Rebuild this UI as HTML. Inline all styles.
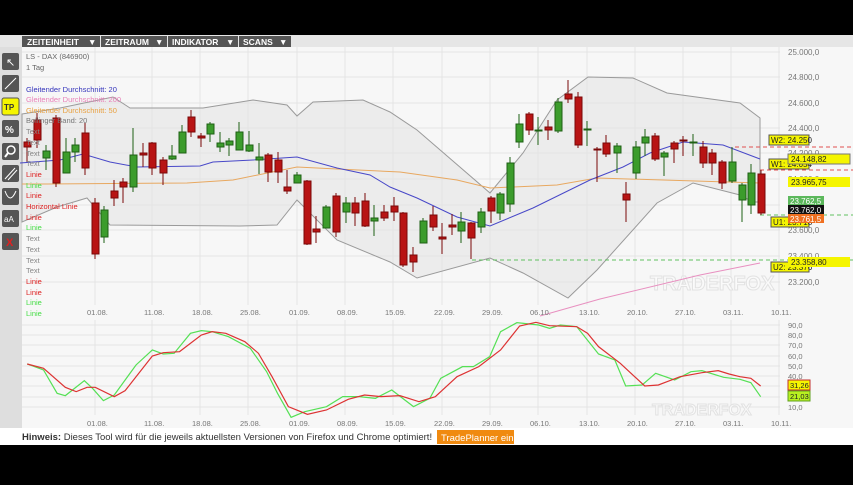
<!DOCTYPE html>
<html><head><meta charset="utf-8"><style>
body{margin:0;width:853px;height:480px;background:#000;overflow:hidden;font-family:"Liberation Sans",sans-serif}
</style></head><body>
<svg width="853" height="480" xmlns="http://www.w3.org/2000/svg" font-family="Liberation Sans, sans-serif">
<rect x="0" y="35" width="853" height="410" fill="#f7f7f7"/>
<rect x="0" y="35" width="853" height="12" fill="#e6e6e6"/>
<g font-size="8.5" font-weight="bold" fill="#fff">
<rect x="22" y="36" width="78" height="11" fill="#555"/><text x="27" y="45">ZEITEINHEIT</text><text x="88" y="45">▼</text>
<rect x="101" y="36" width="66" height="11" fill="#555"/><text x="105" y="45">ZEITRAUM</text><text x="155" y="45">▼</text>
<rect x="168" y="36" width="70" height="11" fill="#555"/><text x="172" y="45">INDIKATOR</text><text x="226" y="45">▼</text>
<rect x="239" y="36" width="52" height="11" fill="#555"/><text x="243" y="45">SCANS</text><text x="279" y="45">▼</text>
</g>
<rect x="0" y="47" width="22" height="381" fill="#dedede"/>
<g>
<rect x="2" y="53" width="17" height="17" rx="2" fill="#555"/><text x="6" y="66" fill="#fff" font-size="11">↖</text>
<rect x="2" y="75" width="17" height="17" rx="2" fill="#555"/><line x1="5" y1="89" x2="16" y2="78" stroke="#fff"/>
<rect x="2" y="98" width="17" height="17" rx="2" fill="#f5f500" stroke="#555"/><text x="4" y="110" font-size="8" font-weight="bold" fill="#333">TP</text>
<rect x="2" y="120" width="17" height="17" rx="2" fill="#555"/><text x="5" y="133" fill="#fff" font-size="10" font-weight="bold">%</text>
<rect x="2" y="143" width="17" height="17" rx="2" fill="#555"/><circle cx="11" cy="150" r="4" fill="none" stroke="#fff" stroke-width="1.5"/><line x1="8" y1="153" x2="5" y2="157" stroke="#fff" stroke-width="2"/>
<rect x="2" y="165" width="17" height="17" rx="2" fill="#555"/><line x1="5" y1="179" x2="15" y2="168" stroke="#fff"/><line x1="8" y1="180" x2="17" y2="170" stroke="#fff"/>
<rect x="2" y="188" width="17" height="17" rx="2" fill="#555"/><path d="M5 191 Q10 205 16 191" fill="none" stroke="#fff"/>
<rect x="2" y="210" width="17" height="17" rx="2" fill="#555"/><text x="4" y="222" fill="#fff" font-size="8">aA</text>
<rect x="2" y="233" width="17" height="17" rx="2" fill="#555"/><text x="6" y="246" fill="#e02020" font-size="11" font-weight="bold">X</text>
</g>
<g stroke="#e4e4e4" stroke-width="1">
<line x1="22" y1="52" x2="780" y2="52"/><line x1="22" y1="77" x2="780" y2="77"/><line x1="22" y1="103" x2="780" y2="103"/><line x1="22" y1="128" x2="780" y2="128"/><line x1="22" y1="153" x2="780" y2="153"/><line x1="22" y1="179" x2="780" y2="179"/><line x1="22" y1="205" x2="780" y2="205"/><line x1="22" y1="230" x2="780" y2="230"/><line x1="22" y1="256" x2="780" y2="256"/><line x1="22" y1="282" x2="780" y2="282"/>
<line x1="95" y1="47" x2="95" y2="305"/><line x1="152" y1="47" x2="152" y2="305"/><line x1="200" y1="47" x2="200" y2="305"/><line x1="248" y1="47" x2="248" y2="305"/><line x1="297" y1="47" x2="297" y2="305"/><line x1="345" y1="47" x2="345" y2="305"/><line x1="393" y1="47" x2="393" y2="305"/><line x1="442" y1="47" x2="442" y2="305"/><line x1="490" y1="47" x2="490" y2="305"/><line x1="538" y1="47" x2="538" y2="305"/><line x1="587" y1="47" x2="587" y2="305"/><line x1="635" y1="47" x2="635" y2="305"/><line x1="683" y1="47" x2="683" y2="305"/><line x1="731" y1="47" x2="731" y2="305"/><line x1="779" y1="47" x2="779" y2="305"/>
</g>
<path d="M22 114 L60 108 L113 97 L130 108 L203 108 L253 100 L287 105 L297 116 L313 102 L363 100 L390 112 L417 130 L490 193 L523 153 L557 100 L588 77 L633 78 L667 93 L740 103 L760 118 L760 202 L753 202 L740 195 L693 183 L657 203 L597 270 L568 298 L523 273 L490 258 L417 278 L390 262 L337 240 L297 200 L277 225 L240 226 L110 225 L87 198 L57 207 L22 222 Z" fill="#e4e4e4" fill-opacity="0.6" stroke="#9a9a9a" stroke-width="1"/>
<text x="650" y="290" font-size="20" font-weight="bold" fill="#fafafa" stroke="#e2e2e2" stroke-width="1">TRADERFOX</text>
<polyline points="22,184 47,184 187,183 233,180 297,167 337,169 400,172 457,180 490,188 557,185 597,178 760,183" fill="none" stroke="#e8a860" stroke-width="1"/>
<polyline points="20,163 60,160 83,154 110,162 137,167 200,166 213,162 253,160 297,157 337,168 370,175 390,187 417,198 457,217 490,226 533,208 590,180 623,167 650,153 683,142 723,145 760,159" fill="none" stroke="#4848c8" stroke-width="1"/>
<polyline points="540,316 600,299 700,275 760,263" fill="none" stroke="#e890c0" stroke-width="1"/>
<g stroke-dasharray="4,3" stroke-width="1">
<line x1="735" y1="147" x2="853" y2="147" stroke="#e05050"/>
<line x1="760" y1="170" x2="853" y2="170" stroke="#e05050"/>
<line x1="760" y1="215" x2="853" y2="215" stroke="#60c060"/>
<line x1="472" y1="260" x2="853" y2="260" stroke="#60c060"/>
</g>
<g stroke-width="1">
<g stroke="#7a0808" fill="#b81414">
<line x1="27" y1="138" x2="27" y2="162"/><rect x="24" y="142" width="7" height="5"/>
<line x1="37" y1="113" x2="37" y2="148"/><rect x="34" y="120" width="7" height="20"/>
<line x1="56" y1="115" x2="56" y2="187"/><rect x="53" y="118" width="7" height="65"/>
<line x1="85" y1="123" x2="85" y2="175"/><rect x="82" y="133" width="7" height="35"/>
<line x1="95" y1="198" x2="95" y2="259"/><rect x="92" y="203" width="7" height="51"/>
<line x1="114" y1="180" x2="114" y2="206"/><rect x="111" y="191" width="7" height="7"/>
<line x1="123" y1="178" x2="123" y2="203"/><rect x="120" y="182" width="7" height="5"/>
<line x1="143" y1="143" x2="143" y2="167"/><rect x="140" y="153" width="7" height="2"/>
<line x1="152" y1="142" x2="152" y2="175"/><rect x="149" y="143" width="7" height="25"/>
<line x1="163" y1="157" x2="163" y2="185"/><rect x="160" y="160" width="7" height="13"/>
<line x1="191" y1="110" x2="191" y2="137"/><rect x="188" y="117" width="7" height="15"/>
<line x1="201" y1="133" x2="201" y2="147"/><rect x="198" y="136" width="7" height="2"/>
<line x1="268" y1="153" x2="268" y2="182"/><rect x="265" y="155" width="7" height="17"/>
<line x1="278" y1="152" x2="278" y2="183"/><rect x="275" y="160" width="7" height="12"/>
<line x1="287" y1="170" x2="287" y2="194"/><rect x="284" y="187" width="7" height="4"/>
<line x1="307" y1="180" x2="307" y2="245"/><rect x="304" y="181" width="7" height="63"/>
<line x1="316" y1="216" x2="316" y2="243"/><rect x="313" y="229" width="7" height="3"/>
<line x1="336" y1="193" x2="336" y2="237"/><rect x="333" y="196" width="7" height="36"/>
<line x1="355" y1="197" x2="355" y2="226"/><rect x="352" y="203" width="7" height="10"/>
<line x1="365" y1="193" x2="365" y2="227"/><rect x="362" y="201" width="7" height="25"/>
<line x1="384" y1="205" x2="384" y2="221"/><rect x="381" y="212" width="7" height="6"/>
<line x1="394" y1="197" x2="394" y2="221"/><rect x="391" y="206" width="7" height="6"/>
<line x1="403" y1="212" x2="403" y2="267"/><rect x="400" y="213" width="7" height="52"/>
<line x1="413" y1="247" x2="413" y2="272"/><rect x="410" y="255" width="7" height="7"/>
<line x1="433" y1="206" x2="433" y2="231"/><rect x="430" y="215" width="7" height="12"/>
<line x1="442" y1="223" x2="442" y2="254"/><rect x="439" y="237" width="7" height="2"/>
<line x1="452" y1="214" x2="452" y2="235"/><rect x="449" y="225" width="7" height="2"/>
<line x1="471" y1="222" x2="471" y2="259"/><rect x="468" y="223" width="7" height="15"/>
<line x1="491" y1="196" x2="491" y2="223"/><rect x="488" y="198" width="7" height="13"/>
<line x1="529" y1="112" x2="529" y2="135"/><rect x="526" y="114" width="7" height="16"/>
<line x1="548" y1="120" x2="548" y2="140"/><rect x="545" y="127" width="7" height="3"/>
<line x1="568" y1="80" x2="568" y2="103"/><rect x="565" y="94" width="7" height="5"/>
<line x1="578" y1="92" x2="578" y2="148"/><rect x="575" y="97" width="7" height="48"/>
<line x1="597" y1="147" x2="597" y2="182"/><rect x="594" y="149" width="7" height="1"/>
<line x1="606" y1="135" x2="606" y2="157"/><rect x="603" y="143" width="7" height="11"/>
<line x1="626" y1="182" x2="626" y2="222"/><rect x="623" y="194" width="7" height="6"/>
<line x1="655" y1="133" x2="655" y2="161"/><rect x="652" y="136" width="7" height="23"/>
<line x1="674" y1="141" x2="674" y2="163"/><rect x="671" y="143" width="7" height="6"/>
<line x1="683" y1="136" x2="683" y2="156"/><rect x="680" y="140" width="7" height="1"/>
<line x1="703" y1="141" x2="703" y2="168"/><rect x="700" y="147" width="7" height="16"/>
<line x1="712" y1="149" x2="712" y2="175"/><rect x="709" y="153" width="7" height="10"/>
<line x1="722" y1="160" x2="722" y2="189"/><rect x="719" y="162" width="7" height="21"/>
<line x1="761" y1="170" x2="761" y2="215"/><rect x="758" y="174" width="7" height="39"/>
</g>
<g stroke="#1e6014" fill="#3c9c2c">
<line x1="46" y1="145" x2="46" y2="170"/><rect x="43" y="151" width="7" height="7"/>
<line x1="66" y1="138" x2="66" y2="173"/><rect x="63" y="152" width="7" height="21"/>
<line x1="75" y1="138" x2="75" y2="162"/><rect x="72" y="145" width="7" height="7"/>
<line x1="104" y1="206" x2="104" y2="243"/><rect x="101" y="210" width="7" height="27"/>
<line x1="133" y1="128" x2="133" y2="192"/><rect x="130" y="155" width="7" height="32"/>
<line x1="172" y1="145" x2="172" y2="160"/><rect x="169" y="156" width="7" height="3"/>
<line x1="182" y1="125" x2="182" y2="153"/><rect x="179" y="132" width="7" height="21"/>
<line x1="210" y1="122" x2="210" y2="142"/><rect x="207" y="124" width="7" height="10"/>
<line x1="220" y1="132" x2="220" y2="152"/><rect x="217" y="143" width="7" height="4"/>
<line x1="229" y1="138" x2="229" y2="156"/><rect x="226" y="141" width="7" height="4"/>
<line x1="239" y1="122" x2="239" y2="150"/><rect x="236" y="132" width="7" height="18"/>
<line x1="249" y1="131" x2="249" y2="152"/><rect x="246" y="145" width="7" height="6"/>
<line x1="259" y1="143" x2="259" y2="174"/><rect x="256" y="157" width="7" height="3"/>
<line x1="297" y1="172" x2="297" y2="183"/><rect x="294" y="175" width="7" height="8"/>
<line x1="326" y1="205" x2="326" y2="228"/><rect x="323" y="207" width="7" height="21"/>
<line x1="346" y1="197" x2="346" y2="223"/><rect x="343" y="203" width="7" height="9"/>
<line x1="374" y1="205" x2="374" y2="236"/><rect x="371" y="218" width="7" height="3"/>
<line x1="423" y1="218" x2="423" y2="243"/><rect x="420" y="221" width="7" height="22"/>
<line x1="461" y1="212" x2="461" y2="243"/><rect x="458" y="222" width="7" height="9"/>
<line x1="481" y1="208" x2="481" y2="233"/><rect x="478" y="212" width="7" height="15"/>
<line x1="500" y1="192" x2="500" y2="220"/><rect x="497" y="194" width="7" height="19"/>
<line x1="510" y1="157" x2="510" y2="212"/><rect x="507" y="163" width="7" height="41"/>
<line x1="519" y1="114" x2="519" y2="148"/><rect x="516" y="124" width="7" height="18"/>
<line x1="538" y1="117" x2="538" y2="145"/><rect x="535" y="130" width="7" height="1"/>
<line x1="558" y1="98" x2="558" y2="133"/><rect x="555" y="102" width="7" height="29"/>
<line x1="587" y1="121" x2="587" y2="146"/><rect x="584" y="129" width="7" height="1"/>
<line x1="617" y1="143" x2="617" y2="173"/><rect x="614" y="146" width="7" height="7"/>
<line x1="636" y1="141" x2="636" y2="179"/><rect x="633" y="147" width="7" height="26"/>
<line x1="645" y1="129" x2="645" y2="156"/><rect x="642" y="137" width="7" height="6"/>
<line x1="664" y1="151" x2="664" y2="176"/><rect x="661" y="153" width="7" height="4"/>
<line x1="693" y1="134" x2="693" y2="156"/><rect x="690" y="142" width="7" height="1"/>
<line x1="732" y1="147" x2="732" y2="183"/><rect x="729" y="162" width="7" height="19"/>
<line x1="742" y1="183" x2="742" y2="222"/><rect x="739" y="185" width="7" height="15"/>
<line x1="751" y1="164" x2="751" y2="214"/><rect x="748" y="173" width="7" height="32"/>
</g>
</g>
<g font-size="8" fill="#222">
<rect x="769" y="135" width="40" height="10" fill="#f5f500" stroke="#555"/><text x="771" y="143">W2: 24.250</text>
<rect x="769" y="159" width="40" height="10" fill="#f5f500" stroke="#555"/><text x="771" y="167">W1: 24.054</text>
<rect x="771" y="217" width="38" height="10" fill="#f5f500" stroke="#555"/><text x="773" y="225">U1: 23.718</text>
<rect x="771" y="262" width="38" height="10" fill="#f5f500" stroke="#555"/><text x="773" y="270">U2: 23.376</text>
</g>
<g font-size="8" fill="#777">
<text x="788" y="55">25.000,0</text><text x="788" y="80">24.800,0</text><text x="788" y="106">24.600,0</text><text x="788" y="131">24.400,0</text><text x="788" y="156">24.200,0</text><text x="788" y="182">24.000,0</text><text x="788" y="233">23.600,0</text><text x="788" y="259">23.400,0</text><text x="788" y="285">23.200,0</text>
</g>
<g font-size="8">
<rect x="788" y="154" width="62" height="10" fill="#f5f500" stroke="#777"/><text x="791" y="162" fill="#222">24.148,82</text>
<rect x="788" y="177" width="62" height="10" fill="#f5f500"/><text x="791" y="185" fill="#222">23.965,75</text>
<rect x="788" y="196" width="36" height="9" fill="#5cb85c"/><text x="790" y="204" fill="#fff">23.762,5</text>
<rect x="788" y="205" width="36" height="9" fill="#111"/><text x="790" y="213" fill="#fff">23.762,0</text>
<rect x="788" y="214" width="36" height="9" fill="#f07020"/><text x="790" y="222" fill="#fff">23.761,5</text>
<rect x="788" y="257" width="62" height="10" fill="#f5f500"/><text x="791" y="265" fill="#222">23.358,80</text>
</g>
<g font-size="7.5">
<text x="26" y="59" fill="#666">LS - DAX (846900)</text><text x="26" y="70" fill="#666">1 Tag</text>
<text x="26" y="92" fill="#3333bb">Gleitender Durchschnitt: 20</text>
<text x="26" y="102" fill="#e880b8">Gleitender Durchschnitt: 200</text>
<text x="26" y="113" fill="#e8a040">Gleitender Durchschnitt: 50</text>
<text x="26" y="123" fill="#777">Bollinger Band: 20</text>
<text x="26" y="134" fill="#888">Text</text><text x="26" y="145" fill="#888">Text</text><text x="26" y="156" fill="#888">Text</text><text x="26" y="166" fill="#888">Text</text>
<text x="26" y="177" fill="#dd2222">Linie</text><text x="26" y="188" fill="#44dd44">Linie</text><text x="26" y="198" fill="#dd2222">Linie</text><text x="26" y="209" fill="#dd2222">Horizontal Linie</text><text x="26" y="220" fill="#dd2222">Linie</text><text x="26" y="230" fill="#44dd44">Linie</text>
<text x="26" y="241" fill="#888">Text</text><text x="26" y="252" fill="#888">Text</text><text x="26" y="263" fill="#888">Text</text><text x="26" y="273" fill="#888">Text</text>
<text x="26" y="284" fill="#dd2222">Linie</text><text x="26" y="295" fill="#dd2222">Linie</text><text x="26" y="305" fill="#44dd44">Linie</text><text x="26" y="316" fill="#44dd44">Linie</text>
</g>
<g font-size="7.5" fill="#777">
<text x="87" y="315">01.08.</text><text x="144" y="315">11.08.</text><text x="192" y="315">18.08.</text><text x="240" y="315">25.08.</text><text x="289" y="315">01.09.</text><text x="337" y="315">08.09.</text><text x="385" y="315">15.09.</text><text x="434" y="315">22.09.</text><text x="482" y="315">29.09.</text><text x="530" y="315">06.10.</text><text x="579" y="315">13.10.</text><text x="627" y="315">20.10.</text><text x="675" y="315">27.10.</text><text x="723" y="315">03.11.</text><text x="771" y="315">10.11.</text>
</g>
<g stroke="#e4e4e4">
<line x1="22" y1="325" x2="780" y2="325"/><line x1="22" y1="335" x2="780" y2="335"/><line x1="22" y1="345" x2="780" y2="345"/><line x1="22" y1="356" x2="780" y2="356"/><line x1="22" y1="366" x2="780" y2="366"/><line x1="22" y1="376" x2="780" y2="376"/><line x1="22" y1="386" x2="780" y2="386"/><line x1="22" y1="397" x2="780" y2="397"/><line x1="22" y1="407" x2="780" y2="407"/>
<line x1="95" y1="320" x2="95" y2="415"/><line x1="152" y1="320" x2="152" y2="415"/><line x1="200" y1="320" x2="200" y2="415"/><line x1="248" y1="320" x2="248" y2="415"/><line x1="297" y1="320" x2="297" y2="415"/><line x1="345" y1="320" x2="345" y2="415"/><line x1="393" y1="320" x2="393" y2="415"/><line x1="442" y1="320" x2="442" y2="415"/><line x1="490" y1="320" x2="490" y2="415"/><line x1="538" y1="320" x2="538" y2="415"/><line x1="587" y1="320" x2="587" y2="415"/><line x1="635" y1="320" x2="635" y2="415"/><line x1="683" y1="320" x2="683" y2="415"/><line x1="731" y1="320" x2="731" y2="415"/><line x1="779" y1="320" x2="779" y2="415"/>
</g>
<text x="652" y="415" font-size="16" font-weight="bold" fill="#fafafa" stroke="#e2e2e2" stroke-width="1">TRADERFOX</text>
<g transform="translate(0,300) scale(0.5441,0.3333)" fill="none" stroke-width="1.2">
<polyline vector-effect="non-scaling-stroke" stroke="#55e055" points="50,192 80,210 105,280 120,287 155,242 170,265 190,302 210,285 250,195 280,150 300,162 320,160 350,100 370,92 390,95 420,110 460,145 490,215 510,280 535,352 560,335 600,320 630,290 660,290 690,295 720,270 760,320 790,295 810,235 850,200 870,200 900,170 920,95 950,68 990,75 1010,85 1030,75 1060,80 1100,162 1130,180 1150,258 1180,255 1205,220 1240,240 1270,215 1290,212 1330,232 1360,238 1380,248 1398,290"/>
<polyline vector-effect="non-scaling-stroke" stroke="#dd3333" points="50,192 80,205 120,262 140,275 160,262 175,262 210,290 230,272 280,168 300,158 330,155 370,105 390,95 415,100 450,125 475,160 500,230 530,320 565,343 600,330 640,298 670,285 700,290 735,287 770,305 800,290 840,230 880,200 920,150 955,78 985,67 1010,77 1060,80 1080,100 1100,140 1140,190 1185,258 1210,255 1250,230 1290,218 1320,212 1340,222 1360,230 1380,235 1398,258"/>
</g>
<g font-size="7.5" fill="#777">
<text x="788" y="328">90,0</text><text x="788" y="338">80,0</text><text x="788" y="348">70,0</text><text x="788" y="359">60,0</text><text x="788" y="369">50,0</text><text x="788" y="379">40,0</text><text x="788" y="410">10,0</text>
</g>
<rect x="788" y="380" width="22" height="10" fill="#f5f500" stroke="#c03030"/><text x="790" y="388" font-size="7.5" fill="#222">31,26</text>
<rect x="788" y="391" width="22" height="10" fill="#b8f020" stroke="#60a020"/><text x="790" y="399" font-size="7.5" fill="#222">21,03</text>
<g font-size="7.5" fill="#777">
<text x="87" y="426">01.08.</text><text x="144" y="426">11.08.</text><text x="192" y="426">18.08.</text><text x="240" y="426">25.08.</text><text x="289" y="426">01.09.</text><text x="337" y="426">08.09.</text><text x="385" y="426">15.09.</text><text x="434" y="426">22.09.</text><text x="482" y="426">29.09.</text><text x="530" y="426">06.10.</text><text x="579" y="426">13.10.</text><text x="627" y="426">20.10.</text><text x="675" y="426">27.10.</text><text x="723" y="426">03.11.</text><text x="771" y="426">10.11.</text>
</g>
<rect x="0" y="428" width="853" height="17" fill="#fff"/>
<text x="22" y="440" font-size="9.5" fill="#333"><tspan font-weight="bold">Hinweis:</tspan> Dieses Tool wird für die jeweils aktuellsten Versionen von Firefox und Chrome optimiert!</text>
<rect x="437" y="430" width="77" height="14" fill="#f08a10"/>
<text x="441" y="441" font-size="9.5" fill="#fff">TradePlanner ein</text>
</svg>
</body></html>
